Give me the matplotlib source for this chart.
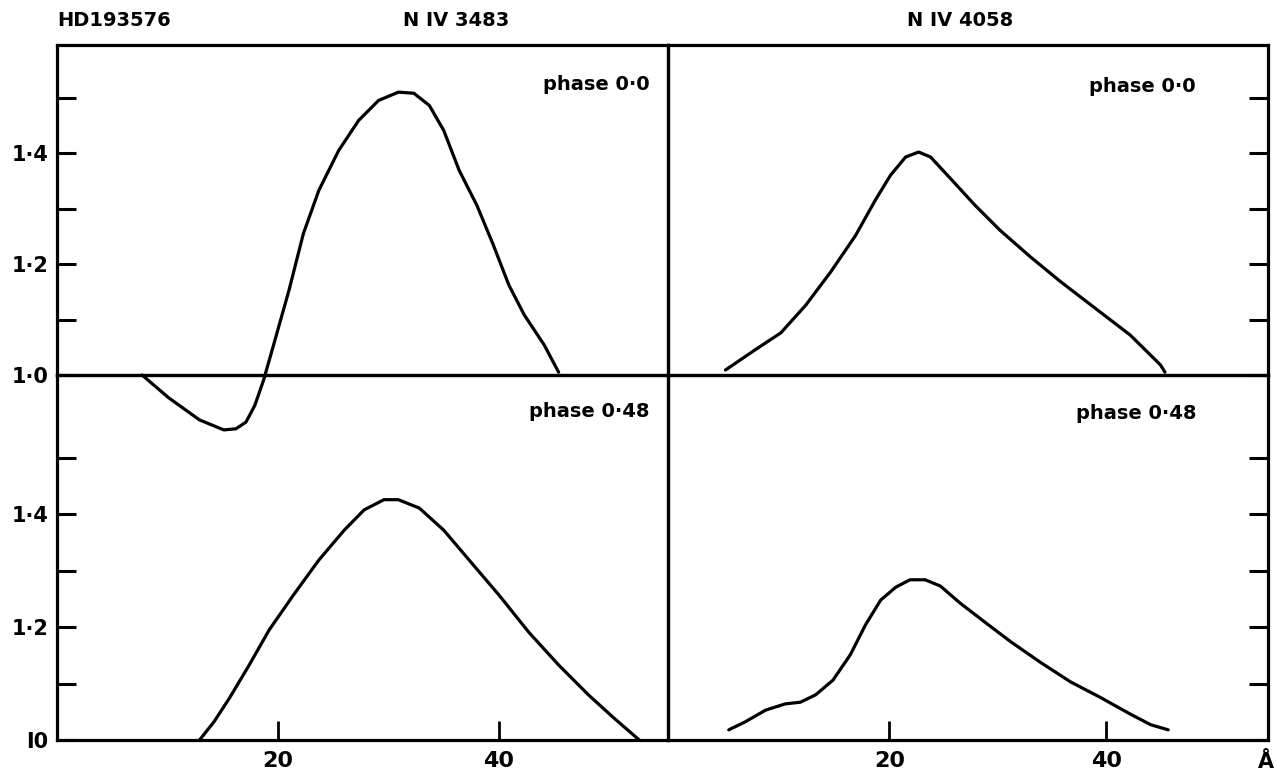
import matplotlib
matplotlib.use("Agg")
import matplotlib.pyplot as plt

plt.rcParams["font.family"] = "DejaVu Sans"
plt.rcParams["font.weight"] = "bold"

# NIV 3483, phase 0.0 (wavelength offset in A, relative intensity)
x_3483_p00 = [7.7, 10.1, 12.9, 15.1, 16.2, 17.1, 17.9, 18.7, 19.6, 21.0, 22.3, 23.7, 25.5, 27.3,
              29.1, 30.9, 32.3, 33.7, 35.0, 36.4, 38.0, 39.5, 40.9, 42.3, 44.1, 45.4]
y_3483_p00 = [1.0, 0.959, 0.919, 0.901, 0.903, 0.915, 0.945, 0.991, 1.054, 1.153, 1.255, 1.333, 1.405, 1.459,
              1.495, 1.510, 1.508, 1.486, 1.441, 1.369, 1.306, 1.234, 1.162, 1.108, 1.054, 1.005]
# NIV 4058, phase 0.0
x_4058_p00 = [4.9, 7.6, 10.0, 12.3, 14.6, 16.9, 18.7, 20.1, 21.5, 22.7, 23.8, 25.6, 27.9,
              30.2, 33.0, 35.8, 39.4, 42.2, 45.0, 45.4]
y_4058_p00 = [1.009, 1.045, 1.076, 1.126, 1.186, 1.252, 1.315, 1.360, 1.393, 1.402, 1.393, 1.355, 1.306,
              1.261, 1.213, 1.168, 1.114, 1.072, 1.018, 1.005]
# NIV 3483, phase 0.48
x_3483_p48 = [12.9, 14.2, 15.6, 17.4, 19.2, 21.4, 23.7, 26.0, 27.8, 29.6, 30.9, 32.8, 35.0,
              37.3, 40.0, 42.7, 45.4, 48.1, 50.4, 52.7]
y_3483_p48 = [1.0, 1.032, 1.074, 1.133, 1.195, 1.257, 1.319, 1.372, 1.408, 1.426, 1.426, 1.411, 1.372,
              1.319, 1.257, 1.191, 1.133, 1.080, 1.039, 1.0]
# NIV 4058, phase 0.48
x_4058_p48 = [5.2, 6.7, 8.6, 10.4, 11.8, 13.2, 14.8, 16.4, 17.8, 19.2, 20.6, 21.9, 23.3, 24.7,
              26.5, 28.8, 31.2, 33.9, 36.7, 39.4, 42.2, 44.1, 45.7]
y_4058_p48 = [1.018, 1.032, 1.053, 1.064, 1.067, 1.080, 1.106, 1.151, 1.204, 1.248, 1.271, 1.284, 1.284,
              1.273, 1.243, 1.209, 1.174, 1.138, 1.103, 1.076, 1.046, 1.027, 1.018]

y_ticks = [1.0, 1.1, 1.2, 1.3, 1.4, 1.5]
y_labels_top = ["1·0", "", "1·2", "", "1·4", ""]
y_labels_bot = ["I0", "", "1·2", "", "1·4", ""]
x_ticks = [20, 40]
x_labels = ["20", "40"]

W, H = 1276, 777
fig = plt.figure(figsize=(W / 100, H / 100), dpi=100)


def rect(x0, y0, x1, y1):
    # pixel box (top-left origin) -> figure fraction
    return [x0 / W, 1 - y1 / H, (x1 - x0) / W, (y1 - y0) / H]


XL, XM, XR = 57, 668, 1268
YT, YM, YB = 45, 375, 740
ax_tl = fig.add_axes(rect(XL, YT, XM, YM))
ax_tr = fig.add_axes(rect(XM, YT, XR, YM))
ax_bl = fig.add_axes(rect(XL, YM, XM, YB))
ax_br = fig.add_axes(rect(XM, YM, XR, YB))

LW = 2.3
panels = [
    (ax_tl, x_3483_p00, y_3483_p00, (0, 55.3), (1.0, 1.595)),
    (ax_tr, x_4058_p00, y_4058_p00, (-0.4, 54.9), (1.0, 1.595)),
    (ax_bl, x_3483_p48, y_3483_p48, (0, 55.3), (1.0, 1.647)),
    (ax_br, x_4058_p48, y_4058_p48, (-0.4, 54.9), (1.0, 1.647)),
]
for ax, xs, ys, xl, yl in panels:
    ax.plot(xs, ys, color="black", lw=LW, clip_on=False, solid_capstyle="round",
            solid_joinstyle="round")
    ax.set_xlim(*xl)
    ax.set_ylim(*yl)
    ax.patch.set_alpha(0)
    for s in ax.spines.values():
        s.set_linewidth(LW)
    ax.set_xticks([])
    ax.set_yticks([])

for ax, labs in [(ax_tl, y_labels_top), (ax_bl, y_labels_bot)]:
    ax.set_yticks(y_ticks)
    ax.set_yticklabels(labs, fontsize=15, fontweight="bold")
    ax.tick_params(axis="y", direction="in", length=14, width=2.2, pad=6)
for ax in [ax_tr, ax_br]:
    ax.yaxis.tick_right()
    ax.set_yticks(y_ticks)
    ax.set_yticklabels([])
    ax.tick_params(axis="y", direction="in", length=14, width=2.2)
for ax in [ax_bl, ax_br]:
    ax.set_xticks(x_ticks)
    ax.set_xticklabels(x_labels, fontsize=16, fontweight="bold")
    ax.tick_params(axis="x", direction="in", length=14, width=2.0, pad=8)

fs = 14
fig.text(57 / W, 1 - 20 / H, "HD193576", fontsize=fs, ha="left", va="center")
fig.text(456 / W, 1 - 20 / H, "N IV 3483", fontsize=fs, ha="center", va="center")
fig.text(960 / W, 1 - 20 / H, "N IV 4058", fontsize=fs, ha="center", va="center")
ax_tl.text(0.97, 0.88, "phase 0·0", transform=ax_tl.transAxes, fontsize=fs, ha="right", va="center")
ax_tr.text(0.88, 0.875, "phase 0·0", transform=ax_tr.transAxes, fontsize=fs, ha="right", va="center")
ax_bl.text(0.97, 0.90, "phase 0·48", transform=ax_bl.transAxes, fontsize=fs, ha="right", va="center")
ax_br.text(0.88, 0.895, "phase 0·48", transform=ax_br.transAxes, fontsize=fs, ha="right", va="center")
fig.text(1274 / W, 1 - 762 / H, "Å", fontsize=15, ha="right", va="center")

fig.savefig("out.png", dpi=100)
